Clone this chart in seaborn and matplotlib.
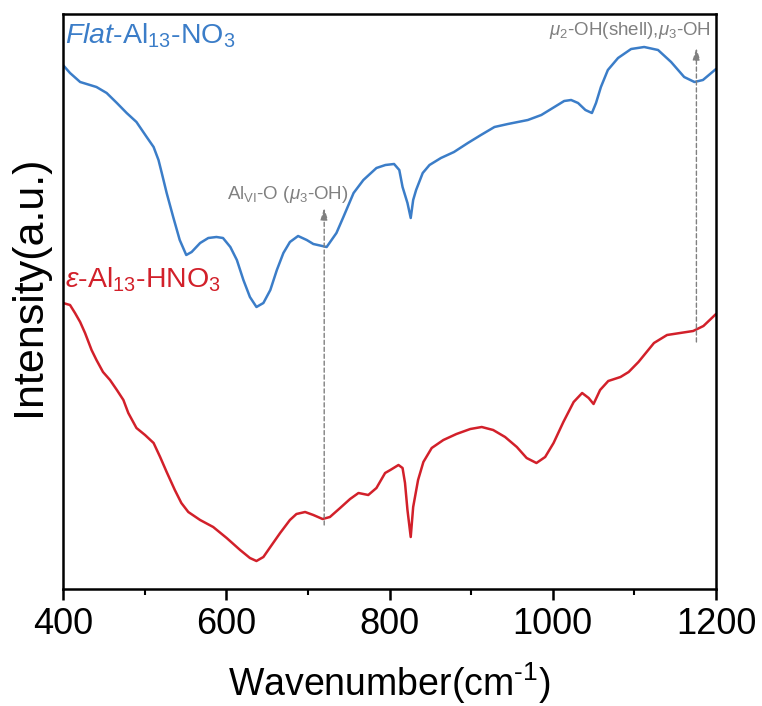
import numpy as np
import matplotlib
matplotlib.use("Agg")
import matplotlib.pyplot as plt
import seaborn as sns
import pandas as pd

# FTIR spectra (intensity in arbitrary units, offset stacked)
flat_x = [400, 408.6, 421, 429, 441, 453.5, 466, 478, 490, 502.5, 511, 517, 521, 527, 535,
          543, 551, 557.6, 568, 578, 588, 596, 605, 613, 621, 629, 637, 645.5, 654, 662,
          670, 678, 688, 698.6, 706.7, 723, 735, 743.5, 756, 768, 784, 795, 805.6, 812,
          816, 822, 826, 829, 832.6, 840.7, 849, 863, 879, 896, 912, 928.6, 945, 969.5,
          986, 1002, 1014, 1022.5, 1031, 1040, 1048, 1053, 1059, 1067.5, 1080, 1096, 1112,
          1129, 1145, 1161, 1173.6, 1184, 1200]
flat_y = [524, 516, 507, 505, 502, 496, 486, 476, 467, 452, 442, 429, 416, 396, 372,
          349, 334, 337, 346, 351, 352, 351, 342, 329, 309, 292, 282, 286, 299, 319,
          336, 347, 353, 349, 345, 342, 356, 372, 396, 409, 421, 424, 425, 419,
          402, 386, 371, 389, 399, 416, 424, 431, 437, 446, 454, 462, 465, 469,
          474, 482, 488, 489, 486, 479, 476, 486, 502, 519, 531, 540, 542,
          539, 527, 512, 507, 509, 520]

eps_x = [400, 408.6, 414.7, 421, 427, 435, 441, 449, 457.6, 466, 474, 480, 490, 500.5, 511,
         519, 527, 537, 545, 553.5, 568, 584, 600.5, 617, 629, 637, 645.5, 654, 666, 678,
         686, 696.6, 706.7, 718, 727, 739.5, 751.7, 762, 774, 784, 794.6, 801, 811, 816,
         819, 822, 826, 829, 835, 841.5, 851.7, 866, 882, 899, 913, 927, 941.6, 956, 968,
         980, 990.7, 1001, 1013, 1025.6, 1036, 1044, 1050, 1058, 1068, 1083, 1093, 1105,
         1124, 1140, 1156, 1172, 1184.6, 1200]
eps_y = [286, 284, 276, 267, 256, 239, 229, 217, 209, 199, 189, 176, 161, 154, 146,
         132, 117, 99, 86, 77, 69, 62, 51, 39, 31, 28, 32, 42, 56, 69,
         75, 77, 74, 70, 72, 81, 90, 96, 94, 101, 116, 119, 124, 121,
         106, 79, 52, 82, 109, 127, 141, 149, 155, 160, 162, 159, 152, 142, 131,
         126, 132, 146, 167, 187, 196, 191, 185, 199, 208, 212, 217, 227,
         246, 254, 256, 258, 263, 275]

blue = "#3b7dc8"
red = "#d2202a"
grey = "#808080"

sns.set_style("ticks")
plt.rcParams["font.family"] = ["Liberation Sans", "DejaVu Sans"]
plt.rcParams["mathtext.fontset"] = "custom"
plt.rcParams["mathtext.rm"] = "Liberation Sans"
plt.rcParams["mathtext.it"] = "Liberation Sans:italic"
plt.rcParams["mathtext.bf"] = "Liberation Sans:bold"
plt.rcParams["text.color"] = "black"
plt.rcParams["axes.labelcolor"] = "black"
plt.rcParams["xtick.color"] = "black"

fig = plt.figure(figsize=(7.62, 7.06), dpi=100)
ax = fig.add_axes([63 / 762, 117 / 706, 653 / 762, 575 / 706])

df_flat = pd.DataFrame({"x": flat_x, "y": flat_y})
df_eps = pd.DataFrame({"x": eps_x, "y": eps_y})
sns.lineplot(data=df_flat, x="x", y="y", ax=ax, color=blue, lw=1.8)
sns.lineplot(data=df_eps, x="x", y="y", ax=ax, color=red, lw=1.8)

ax.set_xlim(400, 1200)
ax.set_ylim(0, 575)
ax.set_yticks([])
ax.set_xticks([400, 600, 800, 1000, 1200])
ax.set_xticks([500, 700, 900, 1100], minor=True)
ax.tick_params(axis="x", which="major", direction="out", length=8, width=1.8,
               labelsize=26, pad=5)
ax.tick_params(axis="x", which="minor", direction="out", length=4, width=1.5)
for s in ax.spines.values():
    s.set_linewidth(1.8)
    s.set_color("black")

ax.set_xlabel("Wavenumber(cm$^{\\text{-}1}$)", fontsize=27, labelpad=13)
ax.set_ylabel("Intensity(a.u.)", fontsize=31)
ax.yaxis.set_label_coords(-0.022, 0.527)

ax.text(402, 546, "$\\mathit{Flat}$-Al$_{13}$-NO$_3$", color=blue, fontsize=20.5,
        va="baseline", ha="left")
ax.text(402, 302, "$\\varepsilon$-Al$_{13}$-HNO$_3$", color=red, fontsize=20.5,
        va="baseline", ha="left")

arrow = dict(arrowstyle="-|>,head_width=0.22,head_length=0.7", color=grey,
             lw=1.0, ls=(0, (3, 2)), shrinkA=0, shrinkB=0)
ax.annotate("", xy=(720, 381), xytext=(720, 64), arrowprops=arrow)
ax.annotate("", xy=(1176, 541), xytext=(1176, 247), arrowprops=arrow)
ax.text(676, 390, "Al$_{\\mathrm{VI}}$-O ($\\mu_3$-OH)", color=grey, fontsize=13.5,
        ha="center", va="baseline")
ax.text(1194, 554, "$\\mu_2$-OH(shell),$\\mu_3$-OH", color=grey, fontsize=13.5,
        ha="right", va="baseline")

fig.savefig("out.png", dpi=100)
